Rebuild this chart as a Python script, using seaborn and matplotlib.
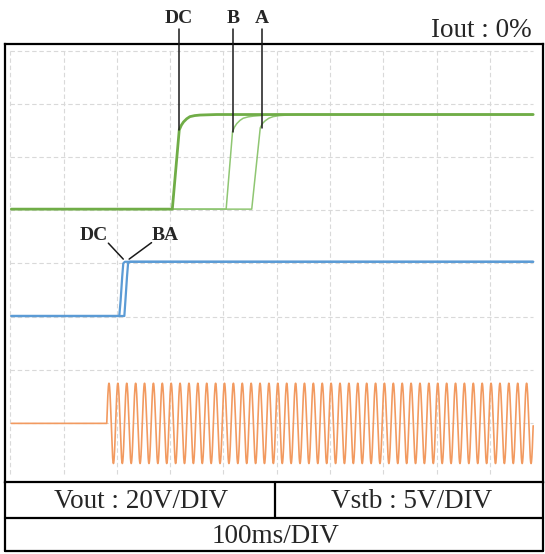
import numpy as np
import pandas as pd
import matplotlib
matplotlib.use("Agg")
import matplotlib.pyplot as plt
import seaborn as sns

# time axis in divisions (100 ms/DIV), vertical axis in divisions
# Vout traces (green), 20 V/DIV
vout_dc_x = [0.02, 3.04, 3.17, 3.21, 3.25, 3.31, 3.37, 3.46, 3.56, 3.87, 9.81]
vout_dc_y = [5.02, 5.02, 6.51, 6.60, 6.66, 6.72, 6.76, 6.78, 6.79, 6.80, 6.80]
vout_b_x = [0.02, 4.05, 4.17, 4.21, 4.25, 4.31, 4.37, 4.46, 4.56, 4.81, 5.00, 9.81]
vout_b_y = [5.02, 5.02, 6.48, 6.57, 6.63, 6.69, 6.73, 6.755, 6.77, 6.79, 6.80, 6.80]
vout_a_x = [0.02, 4.53, 4.69, 4.73, 4.78, 4.85, 4.93, 5.05, 5.19, 5.40, 9.81]
vout_a_y = [5.02, 5.02, 6.55, 6.63, 6.68, 6.73, 6.76, 6.78, 6.79, 6.80, 6.80]

# Vstb traces (blue), 5 V/DIV
vstb_dc_x = [0.02, 2.045, 2.07, 2.10, 2.12, 2.15, 9.81]
vstb_dc_y = [3.01, 3.01, 3.30, 3.75, 4.00, 4.03, 4.03]
vstb_ba_x = [0.02, 2.14, 2.16, 2.19, 2.21, 2.24, 9.81]
vstb_ba_y = [3.01, 3.01, 3.30, 3.75, 4.00, 4.03, 4.03]

# AC input (orange): 60 Hz sine switched on at ~181 ms
ac_start = 1.81
ac_period = 0.1667
ac_center = 0.99
ac_amp = 0.755
ac_end = 9.81

labels_top = ["DC", "B", "A"]
labels_top_x = [3.17, 4.18, 4.72]
labels_top_tip = [6.51, 6.48, 6.55]

sns.set_style("white")
plt.rcParams["font.family"] = ["Liberation Serif", "DejaVu Serif"]

W, H = 545, 554
fig = plt.figure(figsize=(W / 100, H / 100), dpi=100)
ax = fig.add_axes([5 / W, 1 - 482.3 / H, (543.3 - 5) / W, (482.3 - 43.5) / H])
ax.set_xlim(-0.099, 10.0)
ax.set_ylim(-0.1185, 8.136)
ax.set_xticks([])
ax.set_yticks([])
for s in ax.spines.values():
    s.set_color("black")
    s.set_linewidth(1.6)
    s.set_visible(True)

# grid
grid_kw = dict(color="#d9d9d9", lw=0.8, ls=(0, (4, 2.5)), zorder=1)
for gx in range(10):
    ax.plot([gx, gx], [0.03, 8.0], **grid_kw)
for gy in range(1, 9):
    ax.plot([0.0, 9.81], [gy, gy], **grid_kw)

# green
sns.lineplot(x=vout_b_x, y=vout_b_y, ax=ax, color="#8fc672", lw=1.1, sort=False, estimator=None, zorder=3)
sns.lineplot(x=vout_a_x, y=vout_a_y, ax=ax, color="#8fc672", lw=1.1, sort=False, estimator=None, zorder=3)
sns.lineplot(x=vout_dc_x, y=vout_dc_y, ax=ax, color="#70ad47", lw=2.0, sort=False, estimator=None, zorder=4)

# blue
sns.lineplot(x=vstb_dc_x, y=vstb_dc_y, ax=ax, color="#5b9bd5", lw=1.6, sort=False, estimator=None, zorder=3)
sns.lineplot(x=vstb_ba_x, y=vstb_ba_y, ax=ax, color="#5b9bd5", lw=1.6, sort=False, estimator=None, zorder=3)

# orange
t = np.linspace(ac_start, ac_end, 6000)
ac = pd.DataFrame({
    "t": np.concatenate([[0.02], t]),
    "v": np.concatenate([[ac_center], ac_center + ac_amp * np.sin(2 * np.pi * (t - ac_start) / ac_period)]),
})
sns.lineplot(data=ac, x="t", y="v", ax=ax, color="#f29a60", lw=1.2, sort=False, estimator=None, zorder=3)
ax.set_xlabel("")
ax.set_ylabel("")

# trace labels
for lab, lx, tip in zip(labels_top, labels_top_x, labels_top_tip):
    ax.plot([lx, lx], [8.41, tip], color="#1a1a1a", lw=1.1, clip_on=False, zorder=5)
    ax.text(lx, 8.527, lab, ha="center", va="baseline", fontsize=14,
            fontweight="bold", clip_on=False)

ax.plot([1.84, 2.12], [4.38, 4.08], color="#1a1a1a", lw=1.1, zorder=5)
ax.plot([2.65, 2.23], [4.39, 4.08], color="#1a1a1a", lw=1.1, zorder=5)
ax.text(1.57, 4.44, "DC", ha="center", va="baseline", fontsize=14, fontweight="bold")
ax.text(2.90, 4.44, "BA", ha="center", va="baseline", fontsize=14, fontweight="bold")

# overlay in pixel coordinates for header and the scale table
ov = fig.add_axes([0, 0, 1, 1], zorder=10)
ov.set_xlim(0, W)
ov.set_ylim(H, 0)
ov.axis("off")
ov.patch.set_alpha(0)

ov.text(532, 37, "Iout : 0%", ha="right", va="baseline", fontsize=19.5)

line_kw = dict(color="black", lw=1.6)
ov.plot([5, 543.3], [517.7, 517.7], **line_kw)
ov.plot([5, 543.3], [551, 551], **line_kw)
ov.plot([5, 5], [482.3, 551], **line_kw)
ov.plot([543.3, 543.3], [482.3, 551], **line_kw)
ov.plot([275, 275], [482.3, 517.7], **line_kw)
ov.text(141, 508.3, "Vout : 20V/DIV", ha="center", va="baseline", fontsize=19.5)
ov.text(412, 508.3, "Vstb : 5V/DIV", ha="center", va="baseline", fontsize=19.5)
ov.text(276, 543.3, "100ms/DIV", ha="center", va="baseline", fontsize=19.5)

fig.savefig("out.png", dpi=100)
